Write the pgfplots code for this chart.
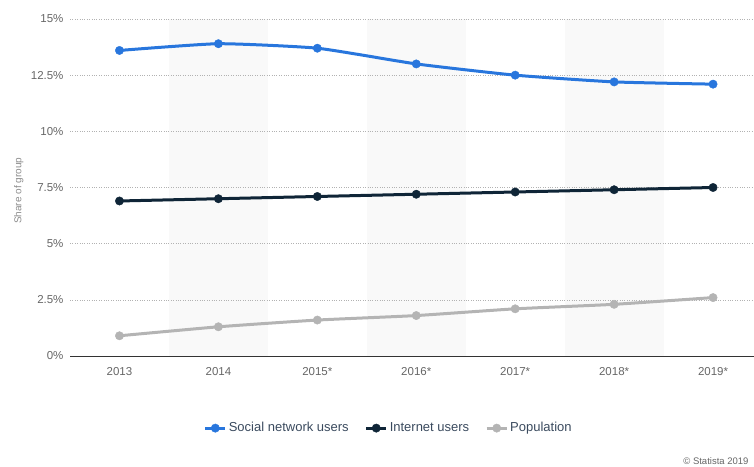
\documentclass[border=0pt]{standalone}
\usepackage{pgfplots}
\pgfplotsset{compat=1.18}
\usepackage{fontspec}
\setmainfont{Liberation Sans}
\definecolor{socblue}{HTML}{2876DD}
\definecolor{netnavy}{HTML}{0F2537}
\definecolor{popgray}{HTML}{B4B4B4}
\definecolor{bandgray}{HTML}{F9F9F9}
\definecolor{ticktext}{HTML}{666666}
\definecolor{legtext}{HTML}{3A4A5E}
\begin{document}
\begin{tikzpicture}
\begin{axis}[
  set layers,
  at={(70pt,110pt)}, anchor=south west,
  scale only axis, width=684pt, height=337pt,
  xmin=-0.5, xmax=6.414, ymin=0, ymax=15,
  axis x line*=bottom, axis y line*=left,
  y axis line style={draw=none},
  x axis line style={draw=black!80, line width=1pt},
  major tick length=0pt,
  xtick={0,1,2,3,4,5,6},
  xticklabels={2013,2014,2015*,2016*,2017*,2018*,2019*},
  ytick={0,2.5,5,7.5,10,12.5,15},
  yticklabels={0\%,2.5\%,5\%,7.5\%,10\%,12.5\%,15\%},
  ticklabel style={font=\fontsize{11.5}{13}\selectfont, text=ticktext},
  xticklabel style={yshift=-8pt},
  yticklabel style={xshift=-3pt},
  ymajorgrids,
  grid style={dotted, draw=black!30, line width=0.5pt},
  ylabel={Share of group},
  ylabel style={font=\fontsize{10}{12}\selectfont, text=black!45, at={(axis description cs:-0.075,0.49)}, anchor=center},
  legend columns=3,
  legend style={at={(axis description cs:0.466,-0.214)}, anchor=center, draw=none, fill=none,
    font=\fontsize{13}{15}\selectfont, text=legtext,
    nodes={text height=9.5pt, text depth=3pt},
    /tikz/every even column/.append style={column sep=14pt}},
  legend image code/.code={
    \draw[mark repeat=2, mark phase=2, #1] plot coordinates {(0pt,0pt) (10pt,0pt) (20pt,0pt)};
  },
  clip=false,
]
\addplot[fill=bandgray, draw=none, forget plot, on layer=axis background] coordinates {(0.5,0) (0.5,15) (1.5,15) (1.5,0)};
\addplot[fill=bandgray, draw=none, forget plot, on layer=axis background] coordinates {(2.5,0) (2.5,15) (3.5,15) (3.5,0)};
\addplot[fill=bandgray, draw=none, forget plot, on layer=axis background] coordinates {(4.5,0) (4.5,15) (5.5,15) (5.5,0)};

\addplot[socblue, line width=3pt, smooth, tension=0.3, mark=*, mark size=4.2pt, mark options={fill=socblue, draw=socblue, line width=0.4pt, solid}]
  coordinates {(0,13.6) (1,13.9) (2,13.7) (3,13.0) (4,12.5) (5,12.2) (6,12.1)};
\addlegendentry{Social network users}
\addplot[netnavy, line width=3pt, smooth, tension=0.3, mark=*, mark size=4.2pt, mark options={fill=netnavy, draw=netnavy, line width=0.4pt, solid}]
  coordinates {(0,6.9) (1,7.0) (2,7.1) (3,7.2) (4,7.3) (5,7.4) (6,7.5)};
\addlegendentry{Internet users}
\addplot[popgray, line width=3pt, smooth, tension=0.3, mark=*, mark size=4.2pt, mark options={fill=popgray, draw=popgray, line width=0.4pt, solid}]
  coordinates {(0,0.9) (1,1.3) (2,1.6) (3,1.8) (4,2.1) (5,2.3) (6,2.6)};
\addlegendentry{Population}
\end{axis}
\node[anchor=base east, font=\fontsize{9.5}{11}\selectfont, text=black!60] at (752pt,2pt) {© Statista 2019};
\pgfresetboundingbox
\path[use as bounding box] (0pt,0pt) rectangle (754pt,466pt);
\end{tikzpicture}
\end{document}
